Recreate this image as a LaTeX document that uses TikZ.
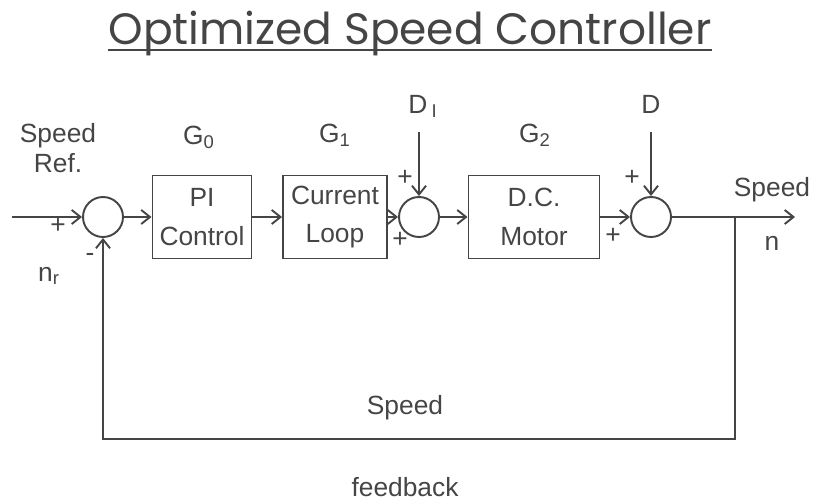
\documentclass[tikz,border=0pt]{standalone}
\usepackage{fontspec}
\setmainfont{Liberation Sans}
\newfontfamily\titlefont{Poppins}
\usetikzlibrary{arrows.meta}
\definecolor{ink}{HTML}{454545}
\begin{document}
\begin{tikzpicture}[x=0.02cm, y=-0.02cm, line width=1.1pt, color=ink,
  every node/.style={font=\fontsize{15}{18}\selectfont, text=ink},
  sumnode/.style={draw, circle, minimum size=0.8cm, inner sep=0pt},
  blockbox/.style={draw, minimum width=#1, minimum height=1.66cm, align=center, inner sep=1pt, font=\fontsize{15}{22}\selectfont},
  sig/.style={-{Straight Barb[length=5pt,width=8pt]}}]
\useasboundingbox (0,0) rectangle (817,500);
% title
\node[font=\titlefont\fontsize{25}{28}\selectfont, inner sep=0pt, anchor=base] (title) at (410,45) {Optimized Speed Controller};
\draw ([yshift=-3pt]title.base west) -- ([yshift=-3pt]title.base east);
% blocks and summing points
\node[sumnode] (sum1) at (103,217) {};
\node[blockbox=1.98cm] (pi) at (202,217) {PI\\Control};
\node[blockbox=2.08cm] (cur) at (335,217) {Current\\Loop};
\node[sumnode] (sum2) at (419,217) {};
\node[blockbox=2.62cm] (motor) at (534,217) {D.C.\\Motor};
\node[sumnode] (sum3) at (651,217) {};
\coordinate (in) at (12,217);
\coordinate (out) at (795,217);
\coordinate (br) at (735,217);
\coordinate (fb) at (735,439);
\coordinate (d1) at (419,132);
\coordinate (d2) at (651,132);
% signal lines
\draw[sig] (in) -- (sum1);
\draw[sig] (sum1) -- (pi);
\draw[sig] (pi) -- (cur);
\draw[sig] (cur) -- (sum2);
\draw[sig] (sum2) -- (motor);
\draw[sig] (motor) -- (sum3);
\draw[sig] (sum3) -- (out);
\draw[sig] (d1) -- (sum2);
\draw[sig] (d2) -- (sum3);
\draw[sig] (br) -- (fb) -| (sum1);
% labels
\node[align=center, font=\fontsize{15}{17.5}\selectfont] (ref) at (58,148) {Speed\\Ref.};
\node (g0) at (199,137) {G\textsubscript{0}};
\node (g1) at (335,135) {G\textsubscript{1}};
\node (g2) at (535,135) {G\textsubscript{2}};
\node (dI) at (423,106) {D\,\textsubscript{I}};
\node (dd) at (651,104) {D};
\node (p1) at (58,226) {+};
\node (m1) at (90,257) {-};
\node (nr) at (49,276) {n\textsubscript{r}};
\node (p2) at (405,178) {+};
\node (p3) at (400,240) {+};
\node (p4) at (632,178) {+};
\node (p5) at (613,236) {+};
\node (spd) at (772,190) {Speed};
\node (nn) at (772,243) {n};
\node (fbs) at (405,408) {Speed};
\node (fbt) at (405,487) {feedback};
\end{tikzpicture}
\end{document}
